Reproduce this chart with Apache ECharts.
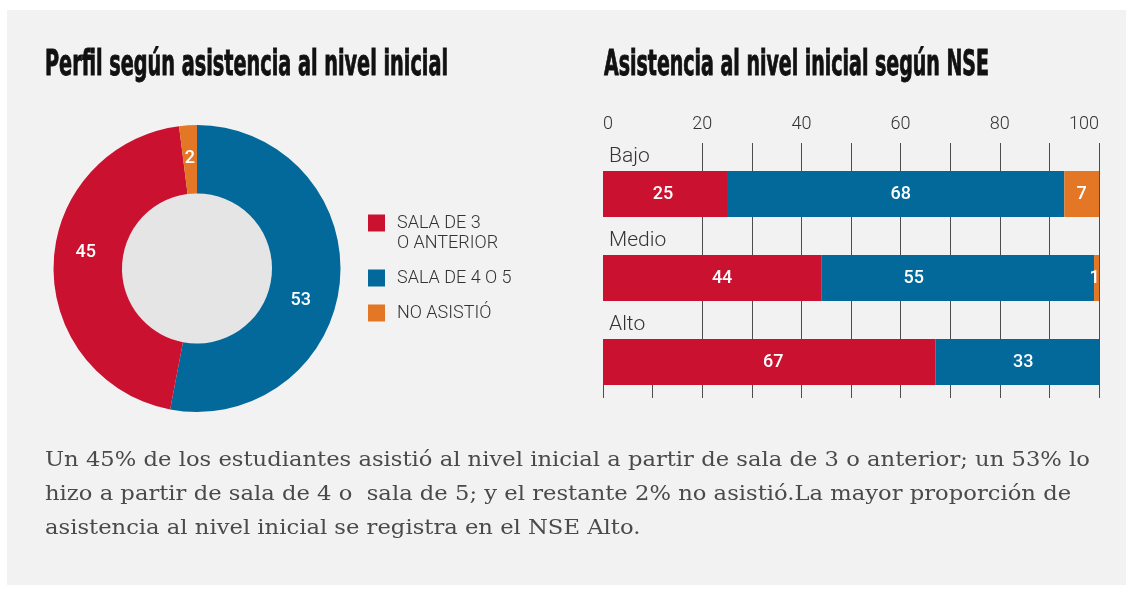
<!DOCTYPE html>
<html>
<head>
<meta charset="utf-8">
<script src="https://cdn.jsdelivr.net/npm/echarts@6/dist/echarts.min.js"></script>
<style>
  html, body { margin: 0; padding: 0; background: #ffffff; }
  #chart { width: 1132px; height: 590px; }
</style>
</head>
<body>
<div id="chart"></div>
<script>
// ---- data ----
const perfilNombres = ['SALA DE 4 O 5', 'SALA DE 3\nO ANTERIOR', 'NO ASISTIÓ'];
const perfilValores = [53, 45, 2];
const perfilColores = ['#02699a', '#ca1130', '#e37726'];

const nseCategorias = ['Bajo', 'Medio', 'Alto'];
const sala3 = [25, 44, 67];
const sala45 = [68, 55, 33];
const noAsistio = [7, 1, 0];

const titulo1 = 'Perfil según asistencia al nivel inicial';
const titulo2 = 'Asistencia al nivel inicial según NSE';
const parrafo = [
  'Un 45% de los estudiantes asistió al nivel inicial a partir de sala de 3 o anterior; un 53% lo',
  'hizo a partir de sala de 4 o  sala de 5; y el restante 2% no asistió.La mayor proporción de',
  'asistencia al nivel inicial se registra en el NSE Alto.'
];

// ---- label placement (pixel nudges for value labels) ----
const perfilLabelNudge = [[-8, 21], [1, -12], [0, 2]];
const sala3Nudge = [[-2, 0], [10, 0], [4, 0]];
const sala45Nudge = [[5, 0], [-44, 0], [6, 0]];
const noAsistioNudge = [[0, 0], [-2, 0], [0, 0]];

// ---- helpers ----
const measureCtx = document.createElement('canvas').getContext('2d');
function textWidth(text, weight, size, family) {
  measureCtx.font = weight + ' ' + size + 'px ' + family;
  return measureCtx.measureText(text).width;
}

const TITLE_FONT = '"Liberation Sans Narrow", "DejaVu Sans Condensed", sans-serif';
const TITLE_SIZE = 35;
const BODY_FONT = '"DejaVu Serif", serif';
const BODY_SIZE = 21;

const t1Scale = 403 / textWidth(titulo1, 'bold', TITLE_SIZE, TITLE_FONT);
const t2Scale = 385 / textWidth(titulo2, 'bold', TITLE_SIZE, TITLE_FONT);
const bodyScale = 1045 / textWidth(parrafo[0], 'normal', BODY_SIZE, BODY_FONT);

const chart = echarts.init(document.getElementById('chart'), null, { renderer: 'canvas' });

const titleStyle = {
  fontSize: TITLE_SIZE, fontWeight: 'bold', fontFamily: TITLE_FONT,
  fill: '#111111', stroke: '#111111', lineWidth: 0.9, verticalAlign: 'middle'
};

const graphics = [
  { type: 'rect', z: -100, shape: { x: 7, y: 10, width: 1119, height: 575 }, style: { fill: '#f2f2f2' } },
  { type: 'circle', z: -50, shape: { cx: 197, cy: 268.5, r: 75 }, style: { fill: '#e5e5e5' } },
  { type: 'text', x: 45, y: 66, scaleX: t1Scale, style: Object.assign({ text: titulo1 }, titleStyle) },
  { type: 'text', x: 604, y: 66, scaleX: t2Scale, style: Object.assign({ text: titulo2 }, titleStyle) }
];
parrafo.forEach(function (linea, i) {
  graphics.push({
    type: 'text', x: 45, y: 461 + i * 34, scaleX: bodyScale,
    style: { text: linea, fontSize: BODY_SIZE, fontFamily: BODY_FONT, fill: '#4a4a4a', verticalAlign: 'middle' }
  });
});

const barLabel = {
  show: true, position: 'inside', color: '#ffffff', fontSize: 18, fontWeight: 500, fontFamily: 'Roboto',
  formatter: function (p) { return p.value > 0 ? String(p.value) : ''; }
};

function barData(values, nudges) {
  return values.map(function (v, i) {
    return { value: v, label: { offset: nudges[i] } };
  });
}

const option = {
  backgroundColor: '#ffffff',
  animation: false,
  graphic: graphics,
  legend: {
    orient: 'vertical', left: 368, top: 193, padding: 0,
    itemWidth: 17, itemHeight: 17, itemGap: 15, icon: 'rect',
    data: [perfilNombres[1], perfilNombres[0], perfilNombres[2]],
    formatter: function (name) { return name.indexOf('\n') >= 0 ? ' \n' + name : name; },
    textStyle: { fontSize: 18, lineHeight: 20, color: '#333333', fontFamily: 'Roboto', fontWeight: 300, padding: [0, 0, 0, 7] },
    selectedMode: false
  },
  grid: [
    { left: 603, right: 33, top: 143, bottom: 192 },
    { left: 603, right: 33, top: 152, bottom: 186 }
  ],
  xAxis: [
    {
      gridIndex: 0, type: 'value', min: 0, max: 100, interval: 10, z: 0,
      axisLine: { show: false }, axisTick: { show: false }, axisLabel: { show: false },
      splitLine: { show: true, lineStyle: { color: '#4d4d4d', width: 1 } }
    },
    {
      gridIndex: 1, type: 'value', position: 'top', min: 0, max: 100, interval: 20,
      axisLine: { show: false }, axisTick: { show: false }, splitLine: { show: false },
      axisLabel: {
        margin: 19, fontSize: 18, color: '#333333', fontFamily: 'Roboto', fontWeight: 300,
        alignMinLabel: 'left', alignMaxLabel: 'right'
      }
    }
  ],
  yAxis: [
    { gridIndex: 0, type: 'value', show: false, min: 0, max: 1 },
    {
      gridIndex: 1, type: 'category', data: nseCategorias, inverse: true, z: 1,
      axisLine: { show: false }, axisTick: { show: false }, splitLine: { show: false },
      axisLabel: {
        inside: true, margin: -2, fontSize: 21, lineHeight: 24, color: '#333333',
        fontFamily: 'Roboto', fontWeight: 300, align: 'left', verticalAlign: 'bottom',
        backgroundColor: '#f2f2f2', width: 72, padding: [12, 0, 25, 8]
      }
    }
  ],
  series: [
    {
      type: 'pie', center: [197, 268.5], radius: [75, 143.5], startAngle: 90, clockwise: true,
      avoidLabelOverlap: false, silent: true,
      data: perfilNombres.map(function (n, i) {
        return { name: n, value: perfilValores[i], itemStyle: { color: perfilColores[i] }, label: { offset: perfilLabelNudge[i] } };
      }),
      label: { show: true, position: 'inside', color: '#ffffff', fontSize: 18, fontWeight: 500, fontFamily: 'Roboto', formatter: '{c}' },
      labelLine: { show: false }
    },
    { type: 'bar', name: perfilNombres[1], stack: 'nse', xAxisIndex: 1, yAxisIndex: 1, barWidth: 46, data: barData(sala3, sala3Nudge), itemStyle: { color: perfilColores[1] }, label: barLabel },
    { type: 'bar', name: perfilNombres[0], stack: 'nse', xAxisIndex: 1, yAxisIndex: 1, barWidth: 46, data: barData(sala45, sala45Nudge), itemStyle: { color: perfilColores[0] }, label: barLabel },
    { type: 'bar', name: perfilNombres[2], stack: 'nse', xAxisIndex: 1, yAxisIndex: 1, barWidth: 46, data: barData(noAsistio, noAsistioNudge), itemStyle: { color: perfilColores[2] }, label: barLabel }
  ]
};

chart.setOption(option);
</script>
</body>
</html>
